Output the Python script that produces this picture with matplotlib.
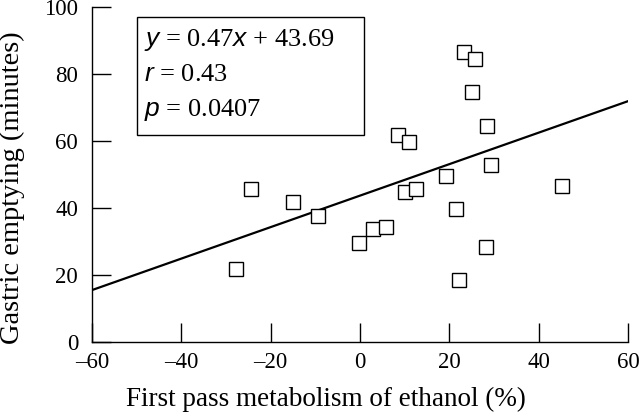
import matplotlib
matplotlib.use('Agg')
import matplotlib.pyplot as plt
import numpy as np
from matplotlib.patches import Rectangle

plt.rcParams['font.family'] = ['Liberation Serif', 'DejaVu Serif']
plt.rcParams['mathtext.fontset'] = 'custom'
plt.rcParams['mathtext.it'] = 'Liberation Sans:italic'
plt.rcParams['mathtext.rm'] = 'Liberation Serif'

# 数据: 首过代谢 (%) 与 胃排空时间 (分钟)
fpm = [23.2, 25.7, 25.0, 28.4, 8.5, 11.0, 29.4, 19.3, -24.5, 10.0, 12.6,
       45.3, -15.1, 21.5, -9.5, 3.0, 5.8, -0.2, 28.2, -27.7, 22.1]
gastric = [86.5, 84.5, 74.5, 64.6, 61.9, 59.6, 52.8, 49.6, 45.7, 44.8, 45.7,
           46.7, 41.7, 39.6, 37.7, 33.7, 34.3, 29.6, 28.3, 21.7, 18.4]

slope = 0.47
intercept = 43.69
x_ticks = [-60, -40, -20, 0, 20, 40, 60]
y_ticks = [0, 20, 40, 60, 80, 100]

fig = plt.figure(figsize=(6.4, 4.13), dpi=100)
ax = fig.add_axes([0.14375, 0.172, 0.8375, 0.811])

# 回归线
xl = np.array([-60, 60])
ax.plot(xl, slope * xl + intercept, color='black', lw=1.6, zorder=2)

# 散点
ax.plot(fpm, gastric, 's', ms=10.5, mfc='white', mec='black', mew=1.0,
        zorder=3, clip_on=False)

ax.set_xlim(-60, 60)
ax.set_ylim(0, 100)
ax.set_xticks(x_ticks)
ax.set_yticks(y_ticks)
ax.set_xticklabels([str(t).replace('-', '\u2013') for t in x_ticks])
ax.tick_params(direction='in', length=14, width=1, labelsize=16.5)
ax.tick_params(axis='x', pad=7)
ax.tick_params(axis='y', pad=10)
ax.spines['top'].set_visible(False)
ax.spines['right'].set_visible(False)
for s in ['left', 'bottom']:
    ax.spines[s].set_linewidth(1)

ax.set_xlabel('First pass metabolism of ethanol (%)', fontsize=19.5)
ax.xaxis.set_label_coords(0.436, -0.135)
ax.set_ylabel('Gastric emptying (minutes)', fontsize=20.5)
ax.yaxis.set_label_coords(-0.125, 0.46)

# 统计信息框
ax.add_patch(Rectangle((0.0836, 0.618), 0.424, 0.352, transform=ax.transAxes,
                       fill=False, edgecolor='black', lw=1, zorder=4))
lines = [r'$y$ = 0.47$x$ + 43.69', r'$r$ = 0.43', r'$p$ = 0.0407']
for i, t in enumerate(lines):
    ax.text(0.097, 0.901 - i * 0.104, t, transform=ax.transAxes, fontsize=19,
            va='center', ha='left')

plt.savefig('out.png', dpi=100)
